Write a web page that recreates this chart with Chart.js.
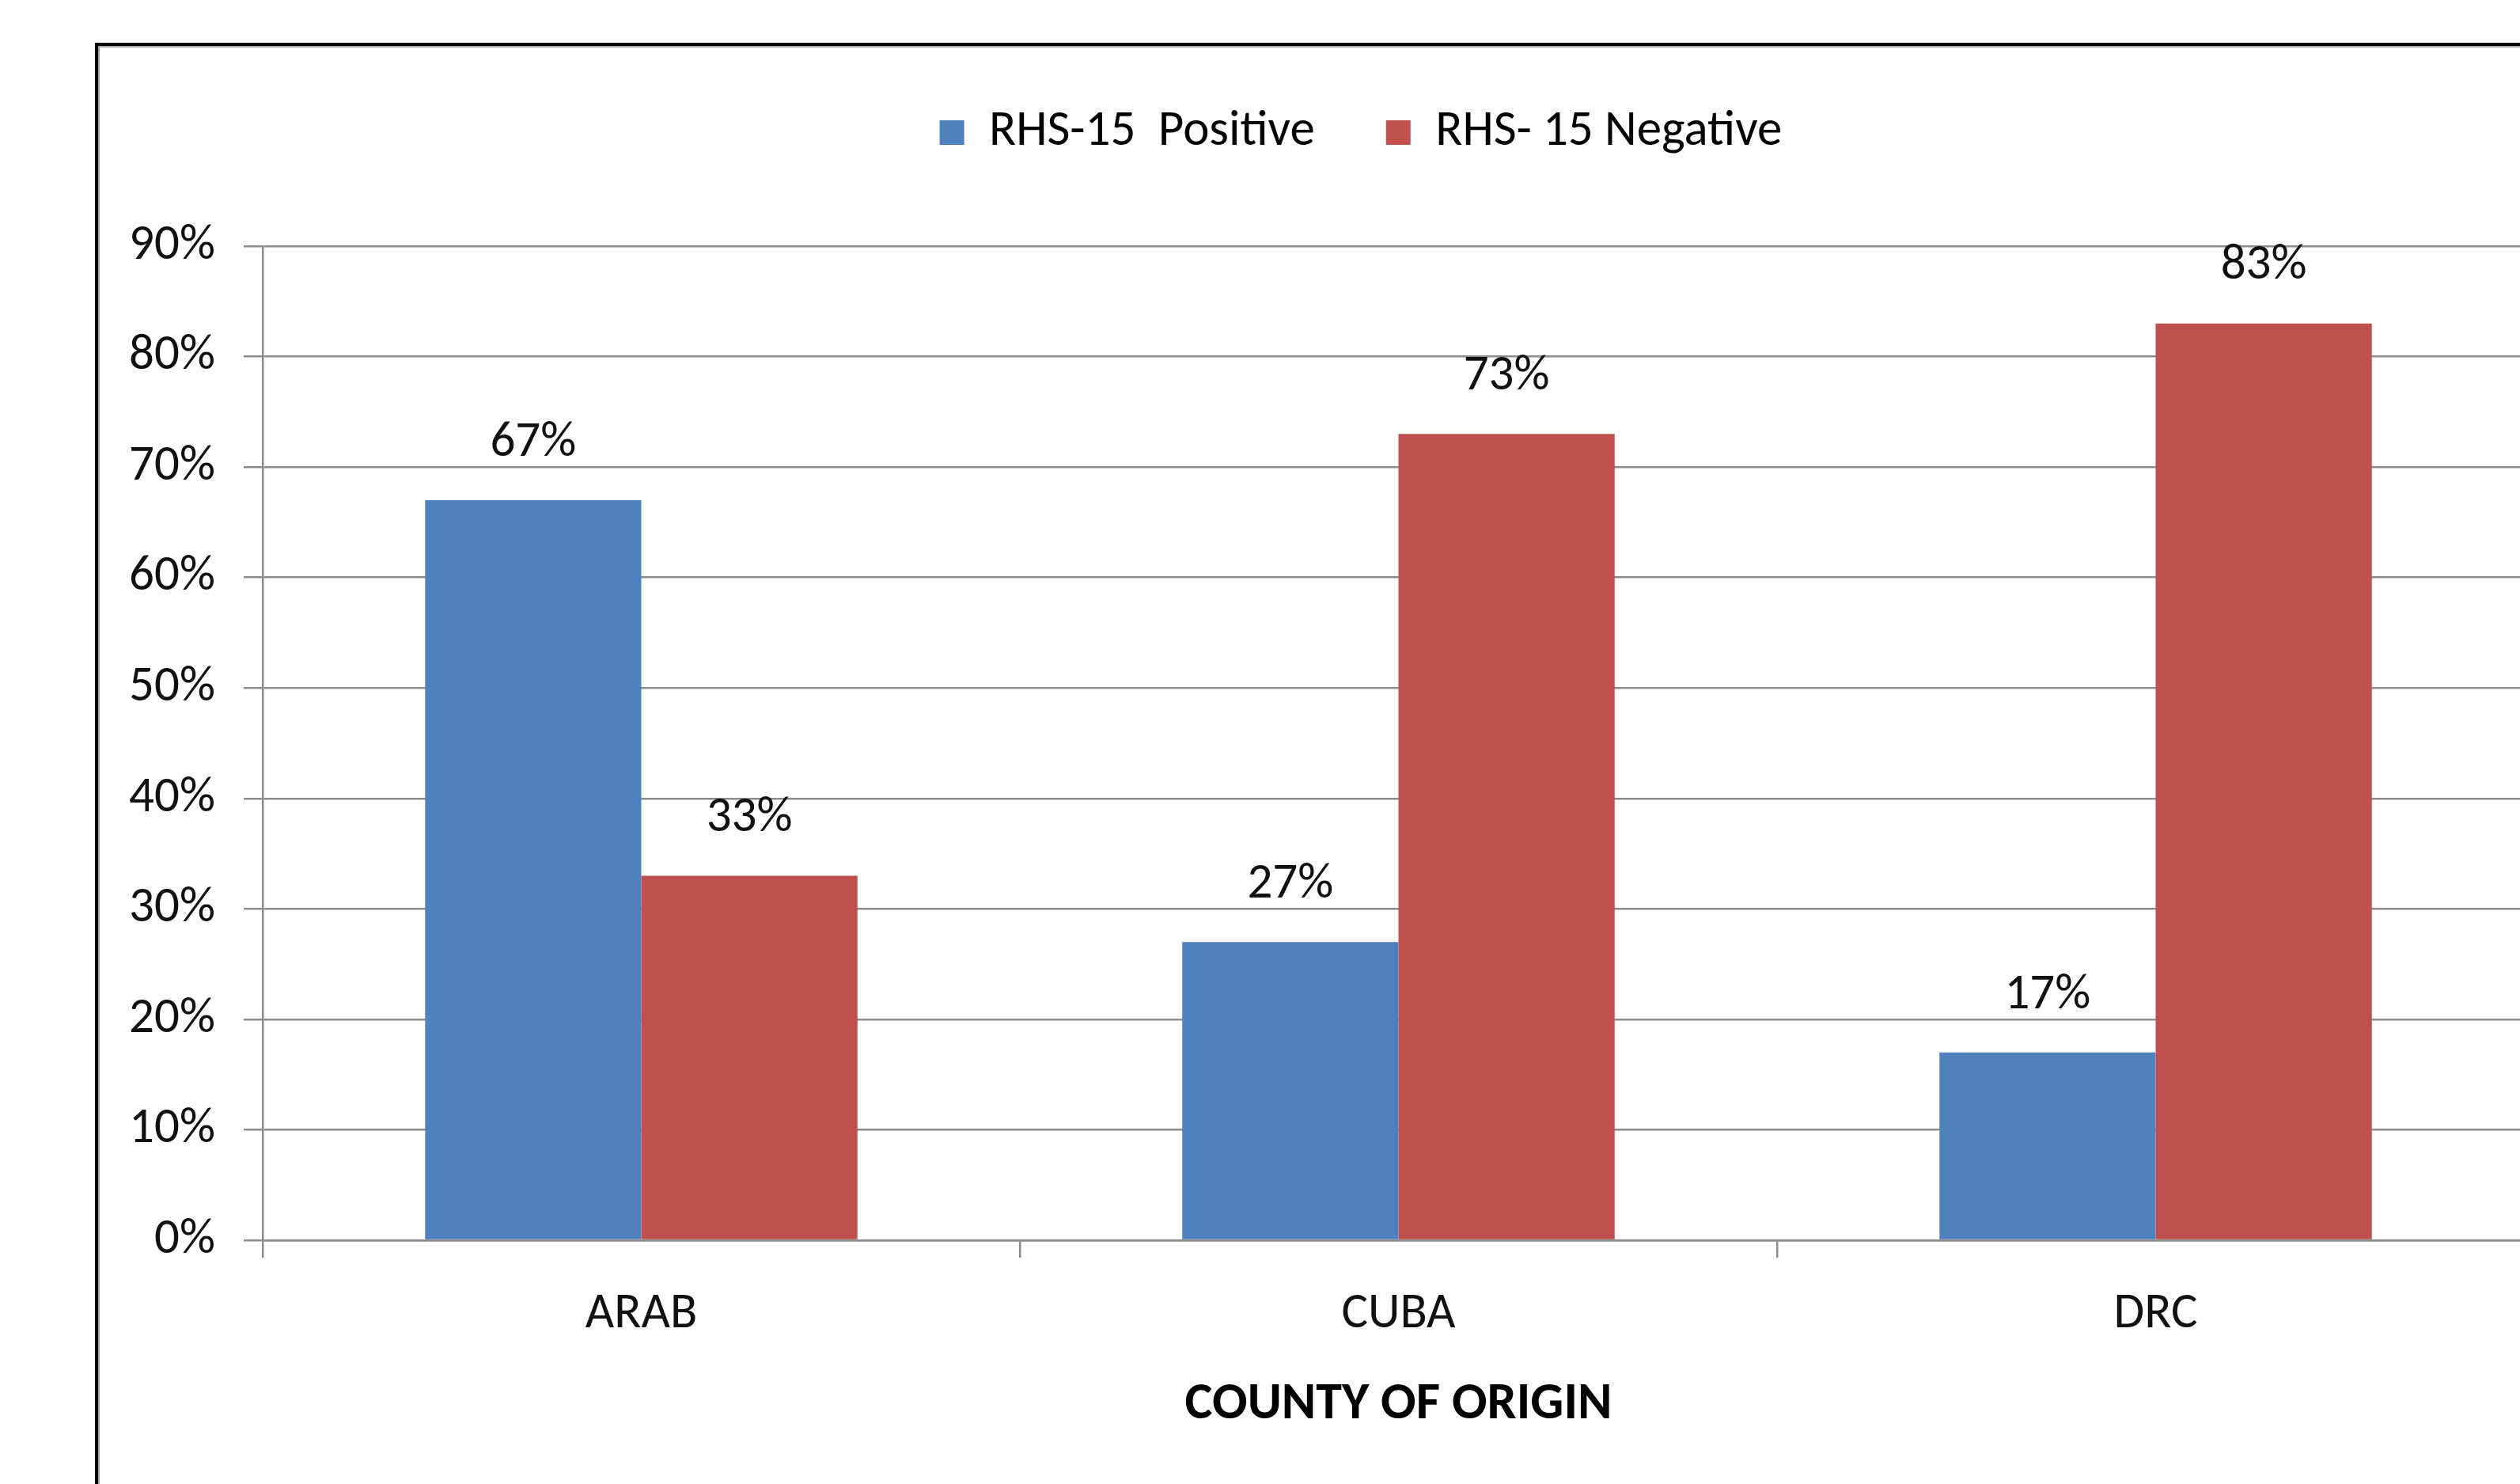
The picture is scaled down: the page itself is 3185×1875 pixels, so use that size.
<!DOCTYPE html>
<html>
<head>
<meta charset="utf-8">
<script src="https://cdn.jsdelivr.net/npm/chart.js@4/dist/chart.umd.min.js"></script>
<style>
  html, body { margin: 0; padding: 0; background: #fff; overflow: hidden; width: 3185px; height: 1875px; }
  #wrap { position: absolute; left: 0; top: 0; }
  #frame {
    position: absolute; left: 120px; top: 54px; width: 3300px; height: 2000px;
    border-left: 4px solid #000; border-top: 4px solid #000;
    box-shadow: inset 2px 2px 0 0 #a0a0a0;
    pointer-events: none;
  }
</style>
</head>
<body>
<div id="wrap"><canvas id="c" width="3440" height="1875"></canvas></div>
<div id="frame"></div>
<script>
// Share of RHS-15 results by country of origin (percent)
const categories = ['ARAB', 'CUBA', 'DRC'];
const positiveValues = [67, 27, 17];
const negativeValues = [33, 73, 83];
const seriesNames = ['RHS-15  Positive', 'RHS- 15 Negative'];
const yTickValues = [0, 10, 20, 30, 40, 50, 60, 70, 80, 90];
const xAxisTitle = 'COUNTY OF ORIGIN';

const FONT = "'Liberation Sans Narrow', Carlito, 'DejaVu Sans Condensed', Lato, sans-serif";
const GRID = '#8c8c8c';
const CANVAS_W = 3440;
const PLOT_RIGHT = 3203;

Chart.defaults.font.family = FONT;
Chart.defaults.color = '#000';

// value labels above each bar
const valueLabels = {
  id: 'valueLabels',
  afterDatasetsDraw(chart) {
    const ctx = chart.ctx;
    ctx.save();
    ctx.font = '63px ' + FONT;
    ctx.fillStyle = '#111';
    ctx.textAlign = 'center';
    ctx.textBaseline = 'middle';
    chart.data.datasets.forEach((ds, i) => {
      chart.getDatasetMeta(i).data.forEach((bar, j) => {
        ctx.fillText(ds.data[j] + '%', bar.x, bar.y - 72);
      });
    });
    ctx.restore();
  }
};

// reserve the band between the top edge and the plot for the legend
const legendBand = {
  id: 'legendBand',
  beforeInit(chart) {
    const fit = chart.legend.fit;
    chart.legend.fit = function () {
      fit.call(this);
      this.height = 311 - 46;
    };
  }
};

new Chart(document.getElementById('c'), {
  type: 'bar',
  data: {
    labels: categories,
    datasets: [
      { label: seriesNames[0], data: positiveValues, backgroundColor: '#4F81BD', borderWidth: 0 },
      { label: seriesNames[1], data: negativeValues, backgroundColor: '#C0504D', borderWidth: 0 }
    ]
  },
  options: {
    responsive: false,
    animation: false,
    devicePixelRatio: 1,
    layout: { padding: { top: 46, left: 0, right: 0, bottom: 0 } },
    datasets: { bar: { categoryPercentage: 0.571, barPercentage: 1.0 } },
    plugins: {
      tooltip: { enabled: false },
      legend: {
        position: 'top',
        align: 'center',
        labels: {
          boxWidth: 31,
          boxHeight: 31,
          padding: 90,
          color: '#000',
          font: { size: 63 }
        }
      }
    },
    scales: {
      x: {
        offset: true,
        grid: { display: true, drawOnChartArea: false, drawTicks: true, tickLength: 22, color: GRID, lineWidth: 2.5, offset: true },
        border: { display: true, color: GRID, width: 2.5 },
        ticks: { font: { size: 63 }, color: '#111', padding: 34 },
        title: { display: true, text: xAxisTitle, font: { size: 66, weight: 'bold' }, color: '#000', padding: { top: 0, bottom: 60 } },
        afterFit(scale) { scale.height = 1875 - 1567; }
      },
      y: {
        min: 0,
        max: 90,
        afterBuildTicks(scale) { scale.ticks = yTickValues.map(v => ({ value: v })); },
        grid: { color: GRID, lineWidth: 2.5, tickLength: 24, drawTicks: true },
        border: { display: true, color: GRID, width: 2.5 },
        ticks: { font: { size: 63 }, color: '#111', padding: 36, callback: v => v + '%' },
        afterFit(scale) { scale.width = 332; }
      },
      pad: {
        position: 'right',
        display: true,
        grid: { display: false },
        border: { display: false },
        ticks: { display: false },
        afterFit(scale) { scale.width = CANVAS_W - PLOT_RIGHT; }
      }
    }
  },
  plugins: [valueLabels, legendBand]
});
</script>
</body>
</html>
